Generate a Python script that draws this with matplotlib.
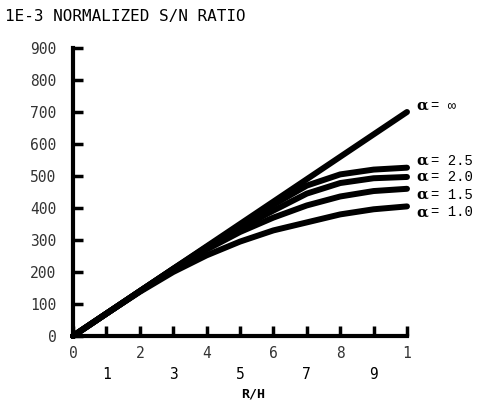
import numpy as np
import matplotlib
matplotlib.use('Agg')
import matplotlib.pyplot as plt

# data
ra = [0, 1, 2, 3, 4, 5, 6, 7, 8, 9, 10]
sn_inf = [0, 70, 140, 210, 280, 350, 420, 490, 560, 630, 700]
sn_25 = [0, 70, 140, 210, 278, 342, 410, 470, 505, 520, 526]
sn_20 = [0, 70, 140, 209, 275, 337, 392, 445, 478, 493, 497]
sn_15 = [0, 70, 140, 208, 270, 325, 370, 408, 436, 453, 460]
sn_10 = [0, 70, 138, 200, 252, 295, 330, 355, 380, 396, 405]
curve_names = ['\u221e', '2.5', '2.0', '1.5', '1.0']

yticks = [0, 100, 200, 300, 400, 500, 600, 700, 800, 900]
xticks_even = [0, 2, 4, 6, 8, 10]
xlabels_even = ['0', '2', '4', '6', '8', '1']
xticks_odd = [1, 3, 5, 7, 9]
xlabels_odd = ['1', '3', '5', '7', '9']

mono = 'DejaVu Sans Mono'

fig = plt.figure(figsize=(4.82, 4.04), dpi=100)
ax = fig.add_axes([73/482, 68/404, 334/482, 288/404])

series = [sn_inf, sn_25, sn_20, sn_15, sn_10]
for s in series:
    ax.plot(ra, s, color='black', lw=4.3, solid_capstyle='round',
            solid_joinstyle='round', clip_on=False)

ax.set_xlim(0, 10)
ax.set_ylim(0, 900)

for sp in ['top', 'right']:
    ax.spines[sp].set_visible(False)
for sp in ['left', 'bottom']:
    ax.spines[sp].set_linewidth(3.0)

ax.set_yticks(yticks)
ax.set_yticklabels([str(v) for v in yticks], family=mono, fontsize=10.5, color='#333333')
ax.tick_params(axis='y', direction='in', length=7, width=2.5, pad=12)

ax.set_xticks(xticks_even)
ax.set_xticklabels(xlabels_even, family=mono, fontsize=10.5, color='#333333')
ax.set_xticks(xticks_odd, minor=True)
ax.set_xticklabels(xlabels_odd, minor=True, family=mono, fontsize=10.5)
ax.tick_params(axis='x', which='both', direction='in', length=7, width=2.5)
ax.tick_params(axis='x', which='major', pad=7)
ax.tick_params(axis='x', which='minor', pad=22)

# curve labels at right end
label_y = [719, 547, 497, 441, 387]
for name, yy in zip(curve_names, label_y):
    ax.text(10.28, yy, '\u03b1', fontsize=11, fontweight='bold', family='DejaVu Serif',
            va='center', ha='left', clip_on=False)
    ax.text(10.72, yy, '= ' + name, fontsize=10, family='Liberation Mono',
            va='center', ha='left', clip_on=False)

fig.text(5/482, 1 - 17/404, '1E-3 NORMALIZED S/N RATIO', family=mono,
         fontsize=11.5, va='center', ha='left')
fig.text(253/482, 1 - 394/404, 'R/H', family=mono, fontsize=9.5,
         fontweight='bold', va='center', ha='center')

fig.savefig('out.png', dpi=100)
